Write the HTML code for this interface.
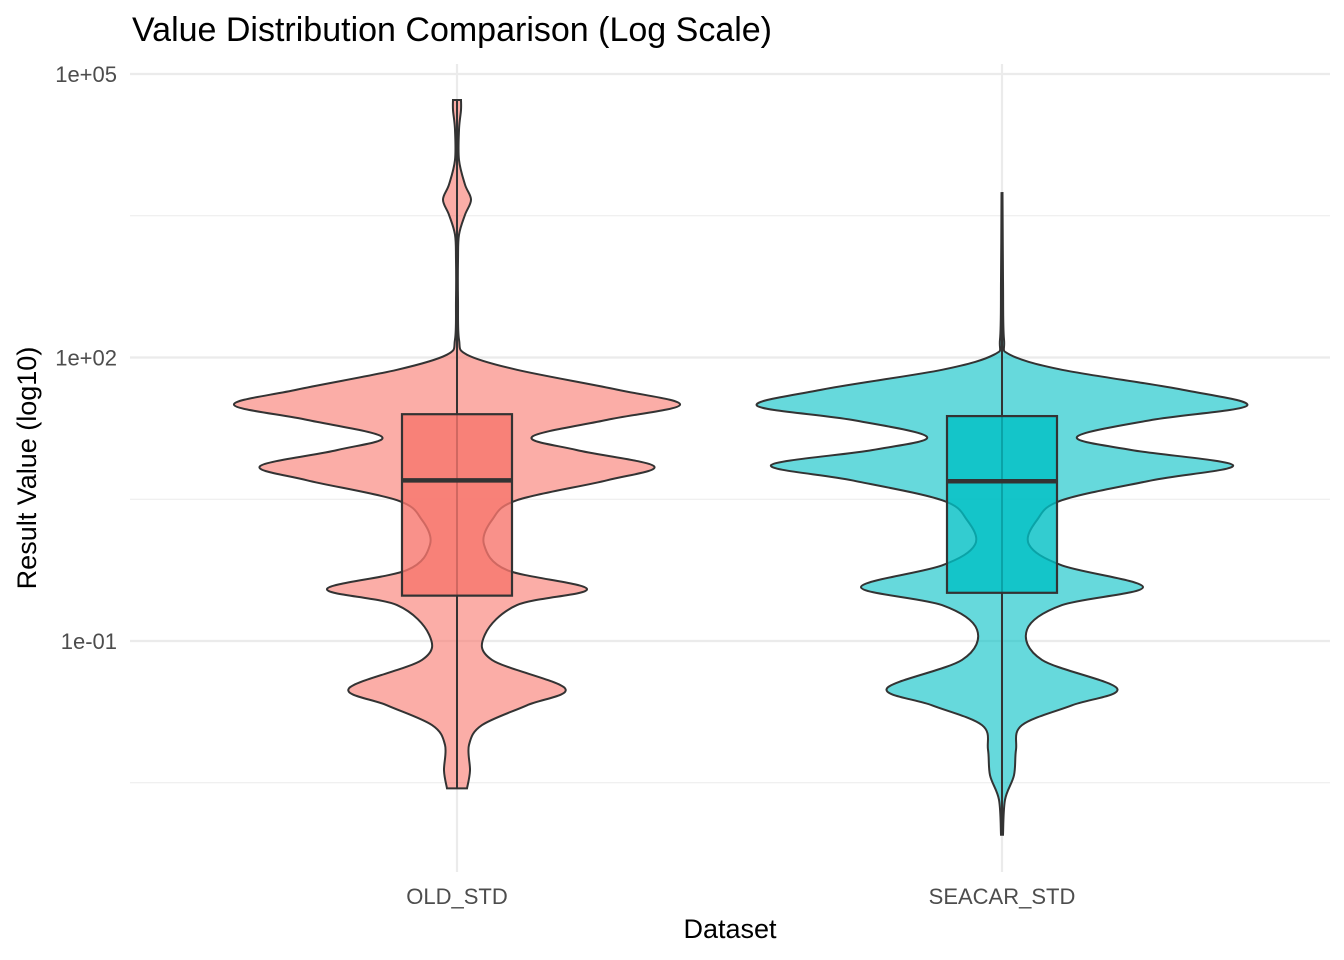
<!DOCTYPE html>
<html><head><meta charset="utf-8">
<style>
html,body{margin:0;padding:0;background:#fff;}
svg{display:block;font-family:"Liberation Sans",sans-serif;}
</style></head>
<body>
<svg id="chart" width="1344" height="960" viewBox="0 0 1344 960">
<text x="132" y="41" font-size="34" fill="#000">Value Distribution Comparison (Log Scale)</text>
<g id="grid"></g>
<g id="marks"></g>
<g id="axes"></g>
<text x="730" y="938" font-size="27" text-anchor="middle" fill="#000">Dataset</text>
<text transform="translate(36,468) rotate(-90)" font-size="27" text-anchor="middle" fill="#000">Result Value (log10)</text>
</svg>
<script>
const categories = ["OLD_STD", "SEACAR_STD"];
const colors = ["#F8766D", "#00BFC4"];
const yTickLogs = [5, 2, -1];
const yTickLabels = ["1e+05", "1e+02", "1e-01"];
const yMinorLogs = [3.5, 0.5, -2.5];
// violin profiles: log10 positions and half-widths (density units)
const oldLogs = [4.725,4.62,4.41,4.09,3.83,3.67,3.51,3.30,3.03,2.61,2.19,2.03,1.87,1.66,1.50,1.34,1.16,1.02,0.85,0.70,0.49,0.28,0.02,-0.25,-0.45,-0.62,-0.93,-1.20,-1.50,-1.68,-1.89,-2.10,-2.37,-2.56];
const oldDens = [0.04,0.04,0.02,0.02,0.08,0.14,0.08,0.02,0.01,0.01,0.02,0.10,0.60,1.60,2.23,1.50,0.75,1.20,1.97,1.50,0.60,0.35,0.27,0.50,1.30,0.60,0.28,0.35,1.08,0.70,0.25,0.12,0.13,0.10];
const seaLogs = [3.74,2.82,2.19,2.03,1.87,1.66,1.49,1.34,1.16,1.02,0.86,0.70,0.49,0.28,0.02,-0.20,-0.43,-0.62,-0.88,-1.20,-1.50,-1.68,-1.89,-2.15,-2.42,-2.68,-3.05];
const seaDens = [0.005,0.01,0.02,0.08,0.60,1.80,2.45,1.50,0.75,1.30,2.31,1.50,0.60,0.35,0.27,0.60,1.41,0.60,0.25,0.40,1.15,0.70,0.20,0.14,0.12,0.03,0.01];
// box stats (log10): q1, median, q3
const oldBox = [-0.52, 0.70, 1.40];
const seaBox = [-0.49, 0.69, 1.38];

const NS="http://www.w3.org/2000/svg";
const plotL=130, plotR=1330;
function yS(l){return 74+(5-l)*94.5;}
function xS(i){return 457+i*545;}
function wS(d){return d*100;}
function mk(tag,attrs,parent){const e=document.createElementNS(NS,tag);for(const k in attrs)e.setAttribute(k,attrs[k]);parent.appendChild(e);return e;}
const grid=document.getElementById('grid'),marks=document.getElementById('marks'),axes=document.getElementById('axes');
yMinorLogs.forEach(l=>{const e=mk('line',{x1:plotL,x2:plotR,y1:yS(l),y2:yS(l),stroke:'#ebebeb','stroke-width':1.1},grid);

});
yTickLogs.forEach((l,i)=>{const e=mk('line',{x1:plotL,x2:plotR,y1:yS(l),y2:yS(l),stroke:'#ebebeb','stroke-width':2.2},grid);


const t=mk('text',{x:117,y:yS(l)+8,'font-size':22,'text-anchor':'end',fill:'#4d4d4d'},axes);t.textContent=yTickLabels[i];

});
categories.forEach((c,i)=>{const e=mk('line',{x1:xS(i),x2:xS(i),y1:64,y2:872,stroke:'#ebebeb','stroke-width':2.2},grid);


const t=mk('text',{x:xS(i),y:904,'font-size':22,'text-anchor':'middle',fill:'#4d4d4d'},axes);t.textContent=c;

});
function spline(pts){let d='M'+pts[0][0]+','+pts[0][1];for(let i=0;i<pts.length-1;i++){const p0=pts[Math.max(0,i-1)],p1=pts[i],p2=pts[i+1],p3=pts[Math.min(pts.length-1,i+2)];
const c1=[p1[0]+(p2[0]-p0[0])/6,p1[1]+(p2[1]-p0[1])/6],c2=[p2[0]-(p3[0]-p1[0])/6,p2[1]-(p3[1]-p1[1])/6];
d+=' C'+c1[0].toFixed(1)+','+c1[1].toFixed(1)+' '+c2[0].toFixed(1)+','+c2[1].toFixed(1)+' '+p2[0].toFixed(1)+','+p2[1].toFixed(1);}return d;}
const profiles=[[oldLogs,oldDens,oldBox],[seaLogs,seaDens,seaBox]];
profiles.forEach((p,i)=>{const [L,D,B]=p;const cx=xS(i);
const right=L.map((l,j)=>[cx+wS(D[j]),yS(l)]);
const left=L.map((l,j)=>[cx-wS(D[j]),yS(l)]).reverse();
const d=spline(right)+' L'+left[0][0]+','+left[0][1]+spline(left).replace(/^M[^ ]+/,'')+' Z';
const v=mk('path',{d:d,fill:colors[i],'fill-opacity':0.6,stroke:'#333','stroke-width':2},marks);


const wh=mk('line',{x1:cx,x2:cx,y1:yS(L[0]),y2:yS(L[L.length-1]),stroke:'#333','stroke-width':2},marks);


const bx=mk('rect',{x:cx-55,y:yS(B[2]),width:110,height:yS(B[0])-yS(B[2]),fill:colors[i],'fill-opacity':0.8,stroke:'#333','stroke-width':2.2},marks);


const md=mk('line',{x1:cx-55,x2:cx+55,y1:yS(B[1]),y2:yS(B[1]),stroke:'#333','stroke-width':4.5},marks);

});
</script>
</body></html>
